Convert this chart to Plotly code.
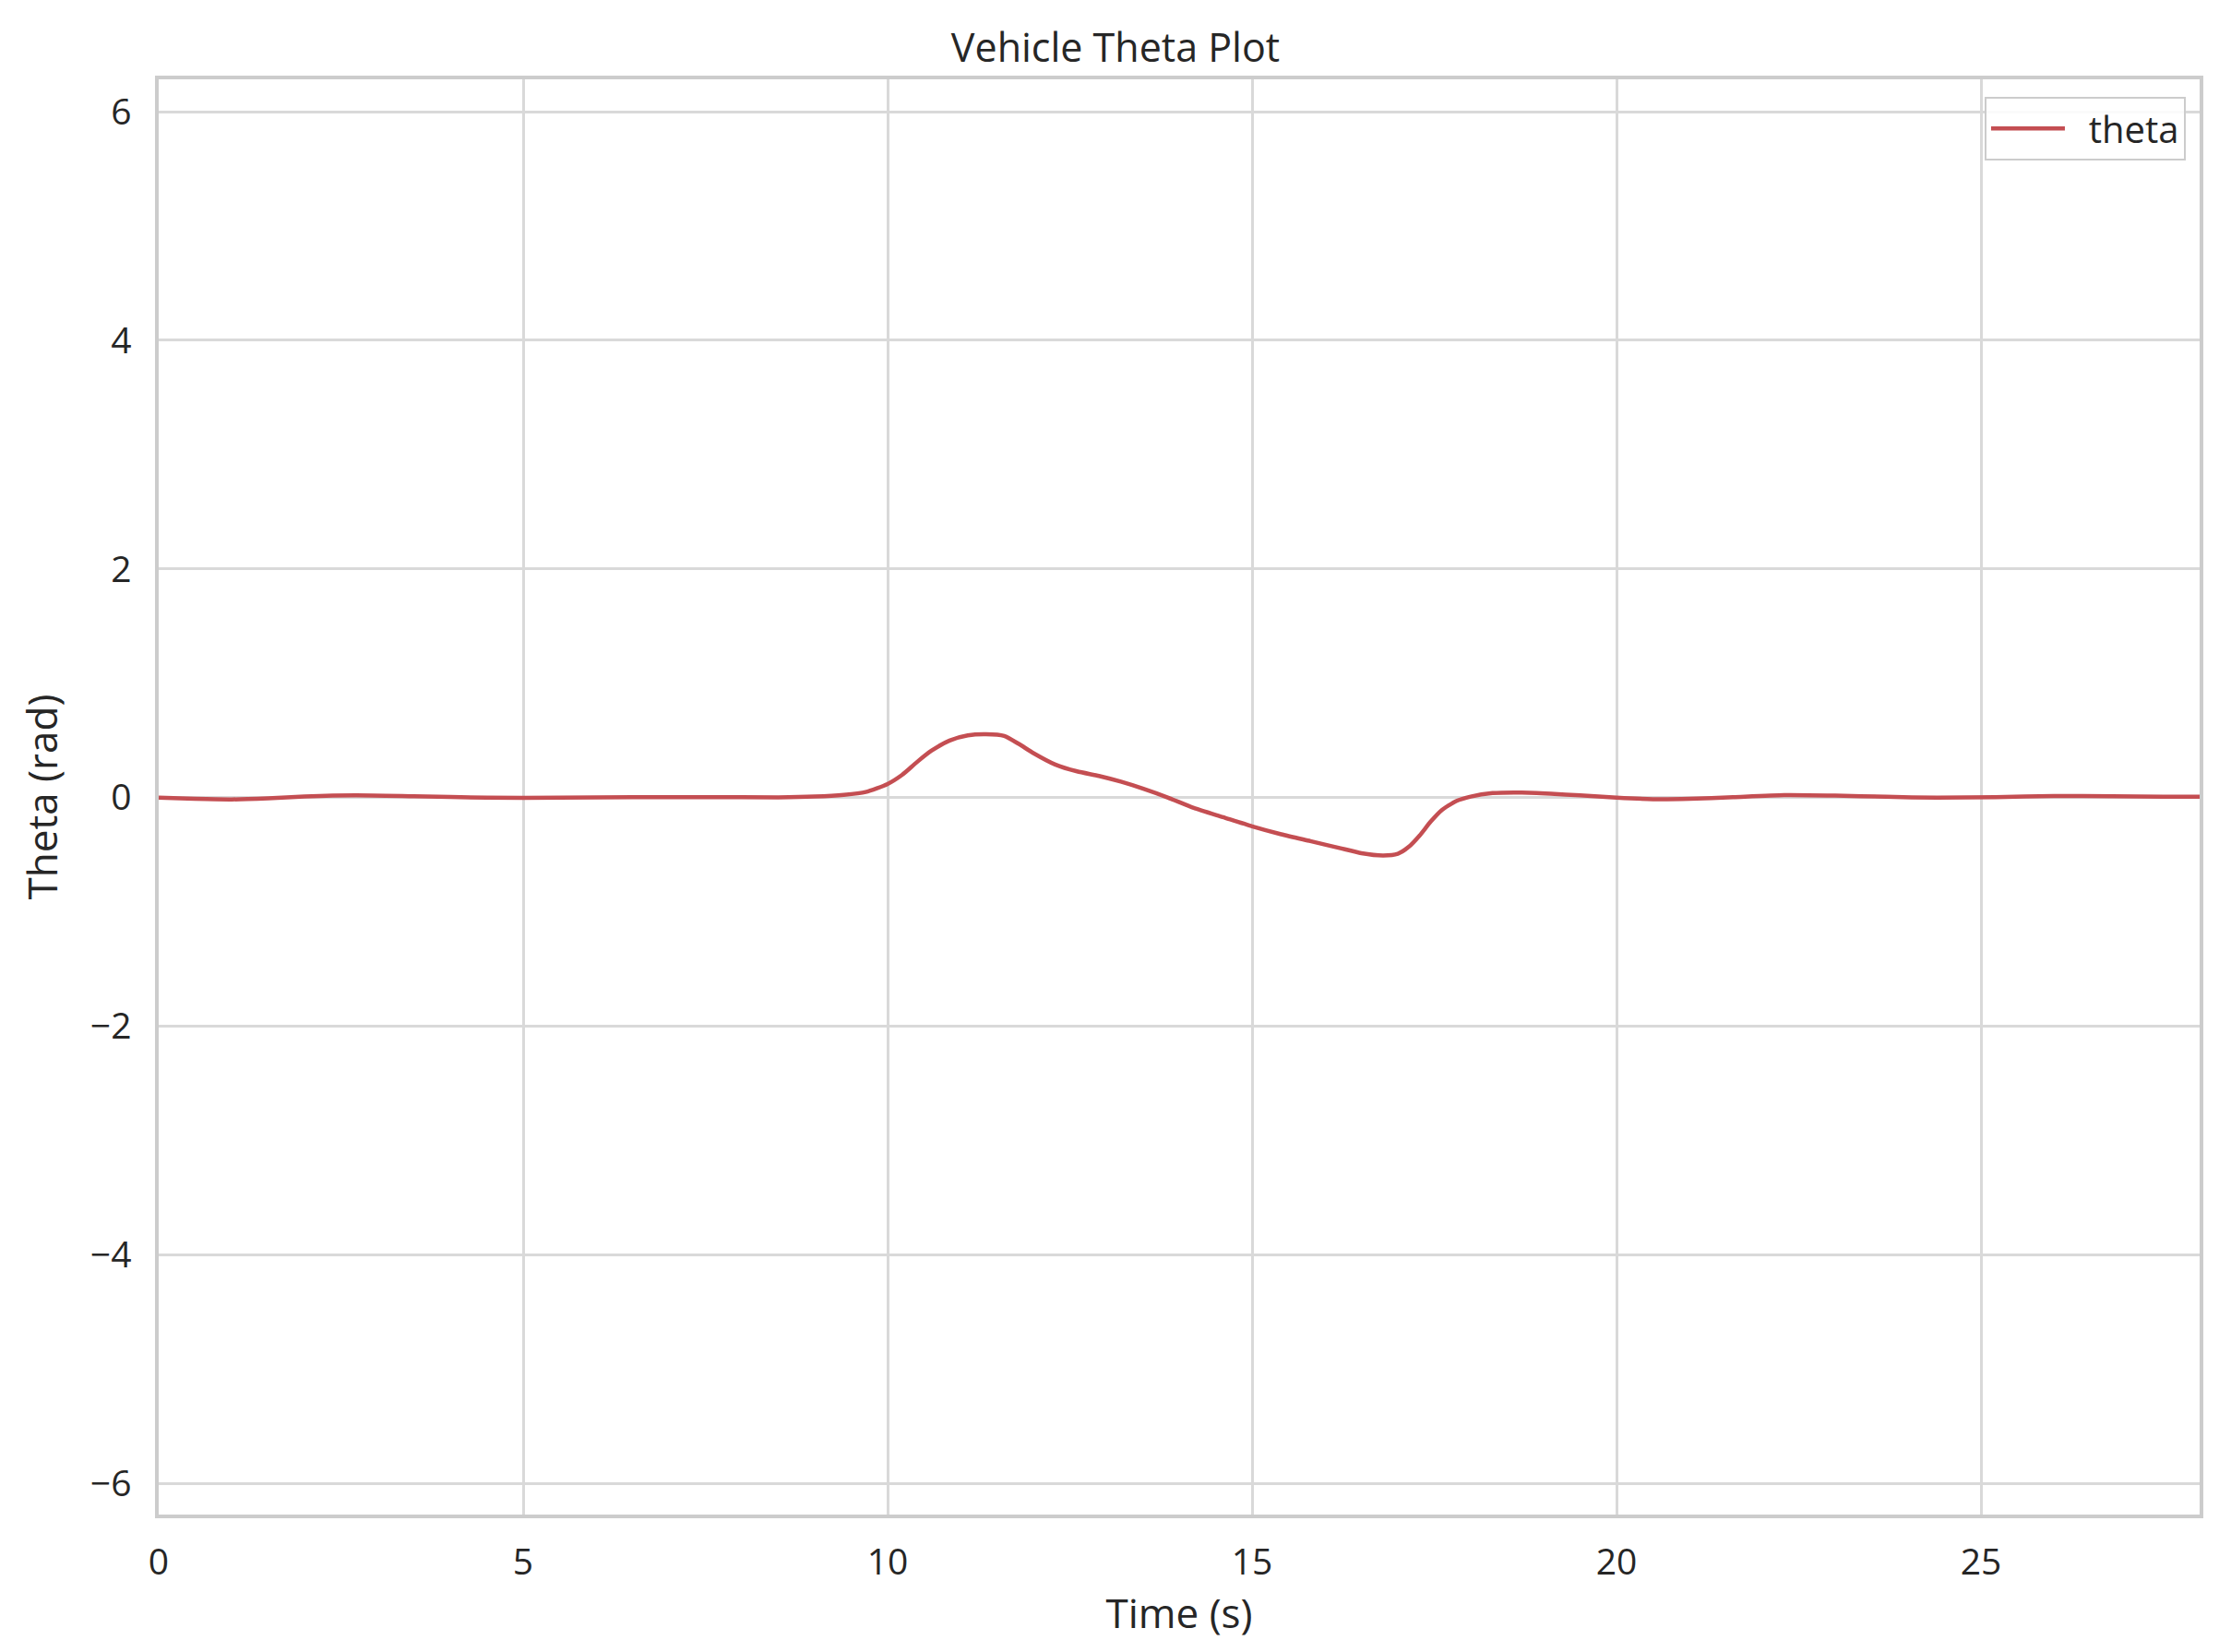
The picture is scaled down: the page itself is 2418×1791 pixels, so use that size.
import plotly.graph_objects as go

# ---- data ----
time_s = [0.0, 0.5, 1.0, 1.5, 2.0, 2.7, 3.5, 4.5, 5.5, 6.5, 7.5, 8.5, 9.0, 9.4, 9.7,
          10.0, 10.2, 10.4, 10.6, 10.85, 11.1, 11.35, 11.6, 11.8, 12.0, 12.3, 12.6,
          12.9, 13.2, 13.5, 13.85, 14.2, 14.6, 15.0, 15.4, 15.8, 16.2, 16.5, 16.8,
          17.0, 17.15, 17.3, 17.45, 17.6, 17.8, 18.0, 18.3, 18.7, 19.1, 19.5, 20.0,
          20.5, 21.0, 21.6, 22.3, 23.0, 23.7, 24.4, 25.2, 26.0, 26.8, 27.5, 28.0]
theta = [0.0, -0.01, -0.015, -0.005, 0.01, 0.02, 0.012, 0.0, 0.0, 0.005, 0.005, 0.003,
         0.01, 0.025, 0.05, 0.12, 0.2, 0.31, 0.41, 0.5, 0.545, 0.555, 0.54, 0.47, 0.39,
         0.29, 0.23, 0.19, 0.14, 0.08, 0.0, -0.09, -0.17, -0.25, -0.32, -0.38, -0.44,
         -0.485, -0.505, -0.49, -0.43, -0.33, -0.21, -0.11, -0.03, 0.01, 0.04, 0.045,
         0.035, 0.02, 0.0, -0.013, -0.01, 0.005, 0.022, 0.018, 0.008, 0.0, 0.005,
         0.015, 0.012, 0.008, 0.008]

x_tick_vals = [0, 5, 10, 15, 20, 25]
x_tick_text = ["0", "5", "10", "15", "20", "25"]
y_tick_vals = [-6, -4, -2, 0, 2, 4, 6]
y_tick_text = ["\u22126", "\u22124", "\u22122", "0", "2", "4", "6"]

x_range = [0, 28]
y_range = [-6.27, 6.283]

FONT = "Open Sans"
TEXT = "#262626"
GRID = "#d9d9d9"
EDGE = "#cccccc"

fig = go.Figure()
fig.add_trace(go.Scatter(
    x=time_s, y=theta, mode="lines", name="\u00a0\u00a0theta",
    line=dict(color="#C44E52", width=4.5, shape="spline", smoothing=0.6),
))

fig.update_layout(
    width=2418, height=1791,
    paper_bgcolor="white", plot_bgcolor="white",
    margin=dict(l=172, r=34, t=86, b=149),
    font=dict(family=FONT, color=TEXT, size=40),
    title=dict(text="Vehicle Theta Plot", x=0.5, xanchor="center",
               y=1 - 52 / 1791, yanchor="middle",
               font=dict(family=FONT, size=43, color=TEXT)),
    showlegend=True,
    legend=dict(x=0.9932, y=0.9879, xanchor="right", yanchor="top",
                bgcolor="rgba(255,255,255,0.85)", bordercolor=EDGE, borderwidth=2,
                font=dict(family=FONT, size=40, color=TEXT), itemwidth=80),
)

fig.update_xaxes(
    range=x_range, tickvals=x_tick_vals, ticktext=x_tick_text,
    showgrid=True, gridcolor=GRID, gridwidth=2.5,
    showline=True, linecolor=EDGE, linewidth=3.5, mirror=True,
    zeroline=False, ticks="", ticklabelstandoff=14,
    tickfont=dict(family=FONT, size=39, color=TEXT),
    title=dict(text="Time (s)", font=dict(family=FONT, size=44, color=TEXT), standoff=0),
)
fig.update_yaxes(
    range=y_range, tickvals=y_tick_vals, ticktext=y_tick_text,
    showgrid=True, gridcolor=GRID, gridwidth=2.5,
    showline=True, linecolor=EDGE, linewidth=3.5, mirror=True,
    zeroline=False, ticks="", ticklabelstandoff=18,
    tickfont=dict(family=FONT, size=39, color=TEXT),
    title=dict(text="Theta (rad)", font=dict(family=FONT, size=44, color=TEXT), standoff=22),
)

fig.write_html("out.html", config={"displayModeBar": False},
               post_script="document.body.style.margin='0';")
